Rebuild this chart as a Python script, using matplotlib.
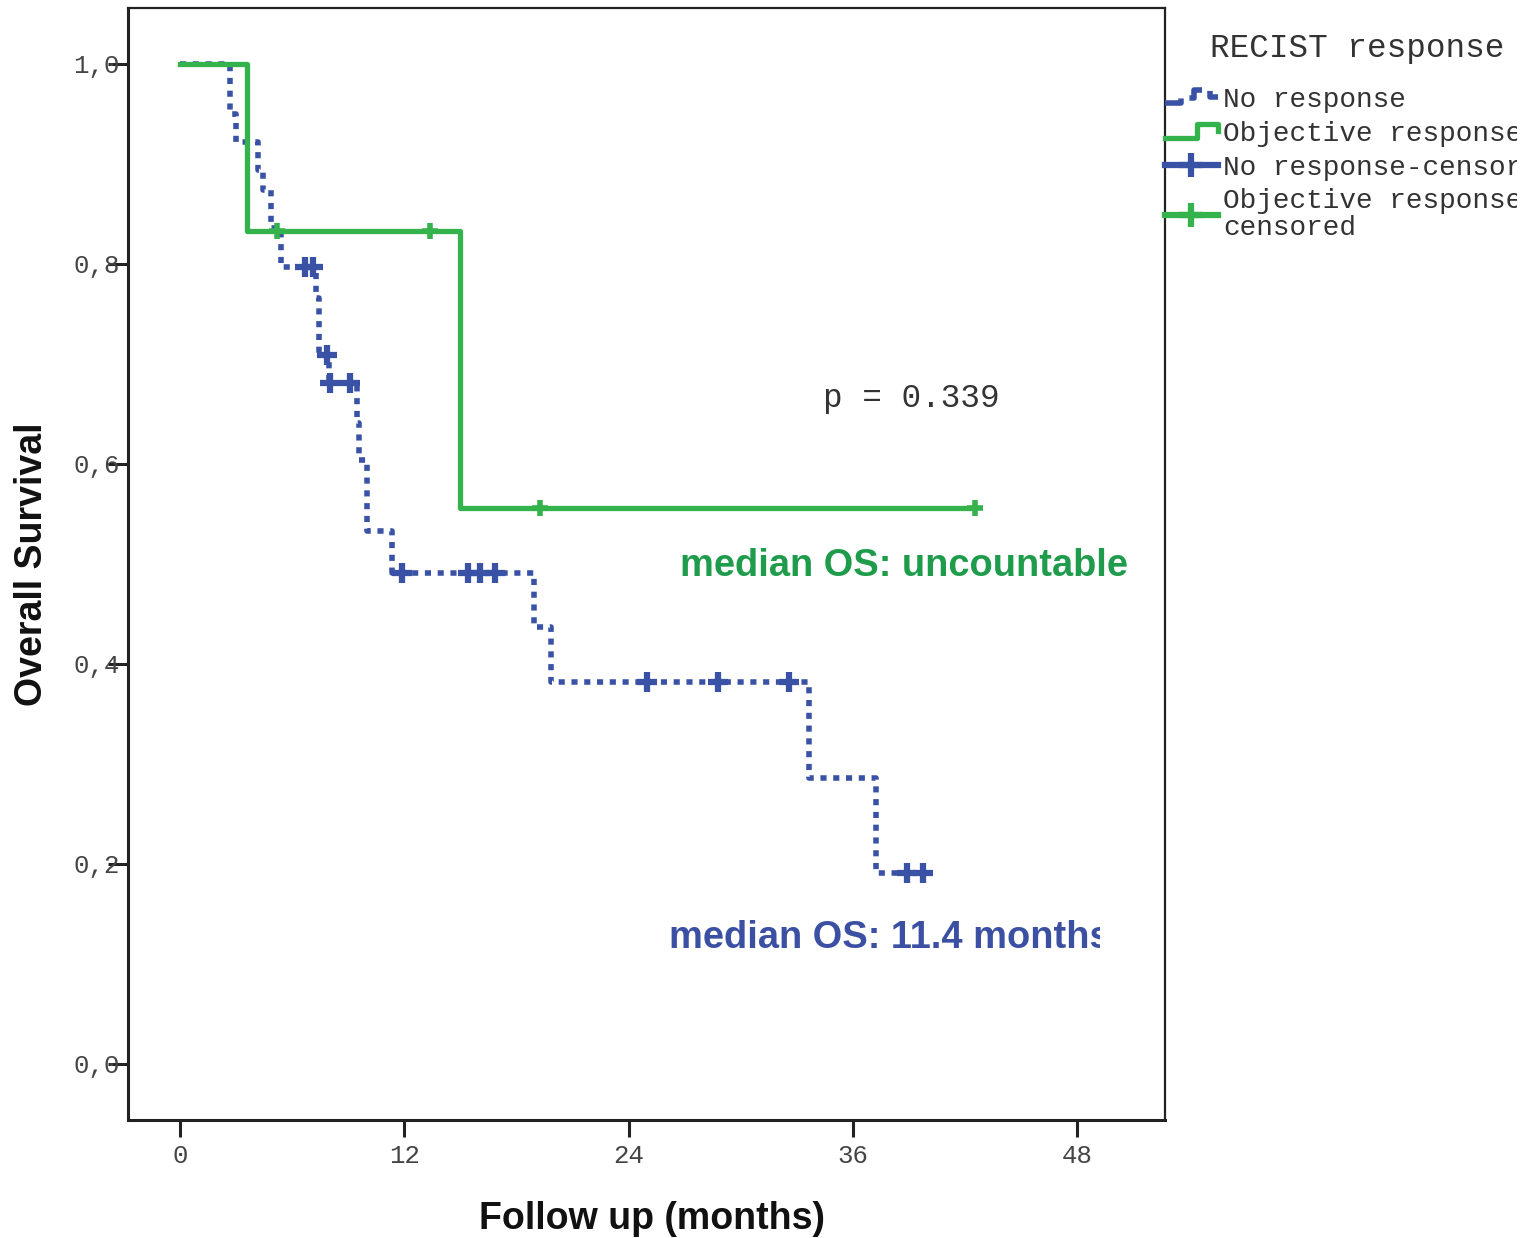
import numpy as np
import matplotlib
matplotlib.use('Agg')
import matplotlib.pyplot as plt
from matplotlib.lines import Line2D
from matplotlib.legend_handler import HandlerBase
from matplotlib.transforms import Bbox, TransformedBbox

# Kaplan-Meier steps (months, survival)
no_resp_times = [0, 2.7, 3.0, 4.17, 4.44, 4.87, 5.4, 7.28, 7.45, 7.97, 9.47, 9.6, 10.0, 11.35, 18.95, 19.85, 33.65, 37.25]
no_resp_surv = [1.0, 0.95, 0.922, 0.894, 0.874, 0.836, 0.797, 0.766, 0.709, 0.681, 0.641, 0.604, 0.533, 0.491, 0.437, 0.382, 0.286, 0.191]
no_resp_end = 40.1
no_resp_censored = [6.7, 7.1, 7.85, 8.05, 9.1, 11.9, 15.4, 16.05, 16.85, 25.0, 28.8, 32.6, 38.9, 39.75]

obj_resp_times = [0, 3.58, 14.98]
obj_resp_surv = [1.0, 0.833, 0.556]
obj_resp_end = 42.54
obj_resp_censored = [5.19, 13.38, 19.26, 42.54]

x_ticks = [0, 12, 24, 36, 48]
y_ticks = [0.0, 0.2, 0.4, 0.6, 0.8, 1.0]
y_tick_labels = ['0,0', '0,2', '0,4', '0,6', '0,8', '1,0']

BLUE = '#3a52a6'
GREEN = '#34b24c'
GREEN_TXT = '#1f9c4b'
BLUE_TXT = '#3b50a3'
MONO = 'Liberation Mono'
SANS = 'Liberation Sans'
DOTTED = (0, (1.1, 1.2))


def surv_at(times, surv, t):
    i = np.searchsorted(times, t, side='right') - 1
    return np.array(surv)[i]


class StepHandler(HandlerBase):
    # draws a little staircase as legend key
    def __init__(self, xs, ys):
        super().__init__()
        self.xs = np.array(xs)
        self.ys = np.array(ys)

    def create_artists(self, legend, orig_handle, xdescent, ydescent,
                       width, height, fontsize, trans):
        line = Line2D(-xdescent + self.xs * width, -ydescent + self.ys * height,
                      color=orig_handle.get_color(), lw=orig_handle.get_linewidth(),
                      linestyle=orig_handle.get_linestyle())
        line.set_transform(trans)
        return [line]


fig = plt.figure(figsize=(15.36, 12.38), dpi=100)
ax = fig.add_axes([128 / 1536, 1 - 1120 / 1238, (1165 - 128) / 1536, (1120 - 8) / 1238])

# no response curve
bx = no_resp_times + [no_resp_end]
by = no_resp_surv + [no_resp_surv[-1]]
ax.step(bx, by, where='post', color=BLUE, lw=4, linestyle=DOTTED)
bc = [surv_at(no_resp_times, no_resp_surv, t) for t in no_resp_censored]
ax.plot(no_resp_censored, bc, linestyle='none', marker='+', ms=15, mew=4.5, color=BLUE)

# objective response curve
gx = obj_resp_times + [obj_resp_end]
gy = obj_resp_surv + [obj_resp_surv[-1]]
ax.step(gx, gy, where='post', color=GREEN, lw=3.8)
gc = [surv_at(obj_resp_times, obj_resp_surv, t) for t in obj_resp_censored]
ax.plot(obj_resp_censored, gc, linestyle='none', marker='+', ms=12, mew=4, color=GREEN)

ax.set_xlim(-2.78, 52.7)
ax.set_ylim(-0.056, 1.056)
ax.set_xticks(x_ticks)
ax.set_xticklabels([str(v) for v in x_ticks], family=MONO, fontsize=18.5, color='#444444')
ax.set_yticks(y_ticks)
ax.set_yticklabels(y_tick_labels, family=MONO, fontsize=18.5, color='#444444')
ax.tick_params(axis='x', direction='out', length=12.2, width=2.2, pad=5, color='#222222')
ax.tick_params(axis='y', direction='out', length=14.4, width=2.2, pad=-8.5, color='#222222')
for side in ['left', 'bottom']:
    ax.spines[side].set_linewidth(2.2)
    ax.spines[side].set_color('#222222')
for side in ['top', 'right']:
    ax.spines[side].set_linewidth(1.6)
    ax.spines[side].set_color('#222222')

ax.set_xlabel('Follow up (months)', family=SANS, fontweight='bold', fontsize=27, color='#111111')
ax.set_ylabel('Overall Survival', family=SANS, fontweight='bold', fontsize=27, color='#111111')
ax.xaxis.set_label_coords(0.505, -0.073)
ax.yaxis.set_label_coords(-0.075, 0.5)

ax.text(34.4, 0.657, 'p = 0.339', family=MONO, fontsize=23.5, color='#333333', va='baseline')
ax.text(26.75, 0.488, 'median OS: uncountable', family=SANS, fontweight='bold',
        fontsize=27.4, color=GREEN_TXT, va='baseline')
t = ax.text(26.16, 0.116, 'median OS: 11.4 months', family=SANS, fontweight='bold',
            fontsize=27.4, color=BLUE_TXT, va='baseline')
t.set_clip_box(TransformedBbox(Bbox([[-1, -1], [(1100 - 128) / 1037, 2]]), ax.transAxes))
t.set_clip_on(True)

fig.text(1210 / 1536, 1 - 57 / 1238, 'RECIST response', family=MONO, fontsize=23.5,
         color='#333333', va='baseline')

# legend keys
k_no = Line2D([], [], color=BLUE, lw=4, linestyle=DOTTED)
k_obj = Line2D([], [], color=GREEN, lw=3.8)
k_noc = Line2D([], [], color=BLUE, lw=4.5, marker='+', ms=17, mew=4.5)
k_objc = Line2D([], [], color=GREEN, lw=4.5, marker='+', ms=17, mew=4.5)

leg = fig.legend([k_no, k_obj, k_noc, k_objc],
                 ['No response', 'Objective response', 'No response-censored',
                  'Objective response-\ncensored'],
                 loc='upper left', bbox_to_anchor=(1165 / 1536, 1 - 87 / 1238),
                 frameon=False, borderpad=0, borderaxespad=0,
                 handlelength=1.9, handletextpad=0.18, labelspacing=0.28,
                 prop={'family': MONO, 'size': 20},
                 handler_map={k_no: StepHandler([0, 0.3, 0.3, 0.55, 0.55, 0.85, 0.85, 1.0],
                                                [0.2, 0.2, 0.45, 0.45, 0.85, 0.85, 0.5, 0.5]),
                              k_obj: StepHandler([0, 0.6, 0.6, 1.0, 1.0],
                                                 [0.15, 0.15, 0.85, 0.85, 0.5])})
# the original panel was cropped a little before the right edge
crop = TransformedBbox(Bbox([[0, 0], [1517 / 1536, 1]]), fig.transFigure)
for txt in leg.get_texts():
    txt.set_color('#333333')
    txt.set_linespacing(1.05)
    txt.set_clip_box(crop)
    txt.set_clip_on(True)

fig.savefig('out.png', dpi=100)
